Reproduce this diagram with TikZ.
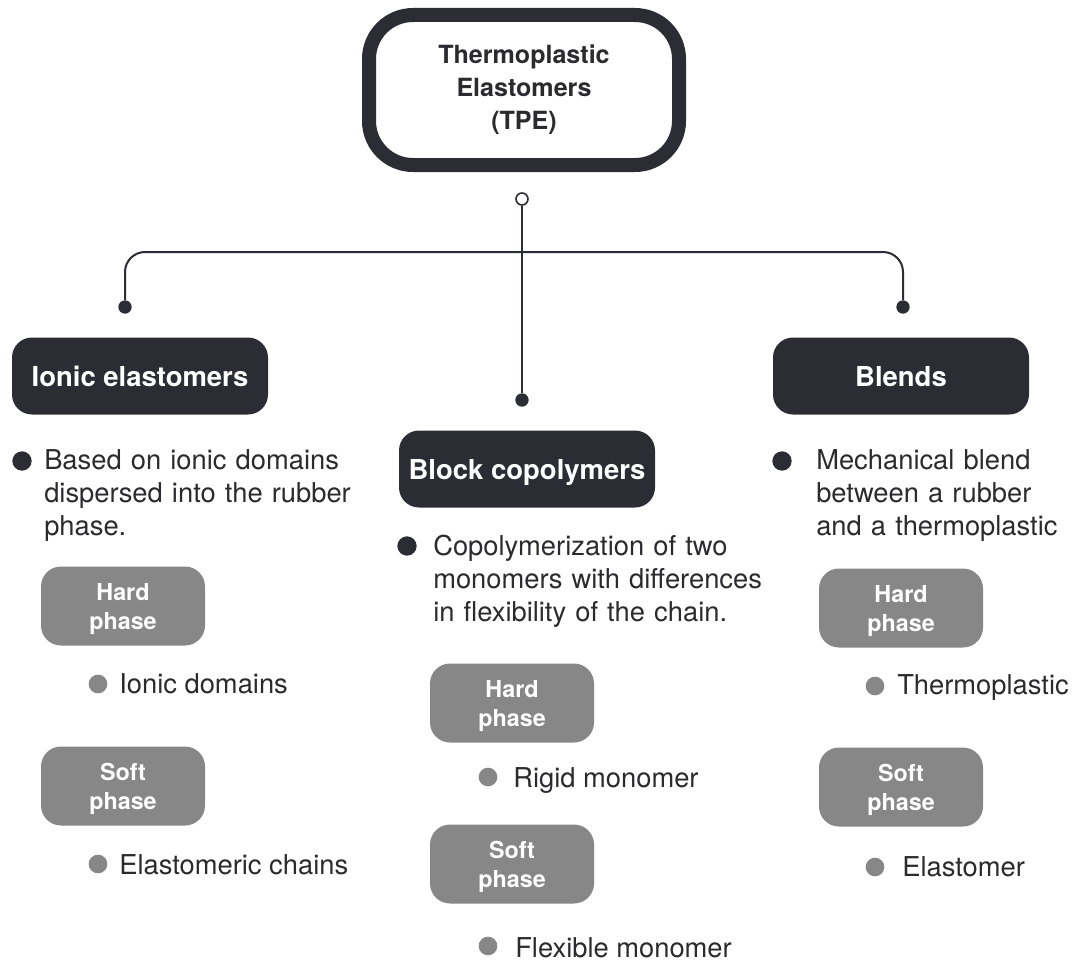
\documentclass[tikz,border=0pt]{standalone}
\usepackage{fontspec}
\setmainfont{TeX Gyre Heros}
\definecolor{dark}{HTML}{2C2D34}
\definecolor{midgrey}{HTML}{878787}
\definecolor{txt}{HTML}{2A2A2F}
\begin{document}
\begin{tikzpicture}[x=0.75pt,y=-0.75pt,
  title/.style={draw=dark, line width=10.5pt, fill=white, rounded corners=33pt, minimum width=232.5pt, minimum height=112.5pt, align=center, text=txt, font=\fontsize{18.8pt}{24.75pt}\selectfont\bfseries},
  cat/.style={fill=dark, rounded corners=15pt, minimum width=192pt, minimum height=57.75pt, text depth=0pt, text=white, font=\fontsize{20.6pt}{24pt}\selectfont\bfseries},
  phase/.style={fill=midgrey, rounded corners=15pt, minimum width=123pt, minimum height=59.25pt, text depth=0pt, text=white, align=center, font=\fontsize{17.5pt}{21.75pt}\selectfont\bfseries},
  bigdot/.style={circle, fill=dark, inner sep=0pt, minimum size=14.5pt},
  smalldot/.style={circle, fill=midgrey, inner sep=0pt, minimum size=14pt},
  desc/.style={anchor=base west, inner sep=0pt, text=txt, align=left, font=\fontsize{20.5pt}{24.75pt}\selectfont},
  item/.style={anchor=base west, inner sep=0pt, text=txt, font=\fontsize{20.5pt}{24pt}\selectfont},
  conn/.style={draw=dark, line width=1.5pt},
  jdot/.style={circle, fill=dark, inner sep=0pt, minimum size=10pt},
  odot/.style={circle, draw=dark, fill=white, line width=1.2pt, inner sep=0pt, minimum size=9pt}]
\useasboundingbox (0,0) rectangle (1073,963);

% top node
\node[title] (tpe) at (524,90) {Thermoplastic\\Elastomers\\(TPE)};

% connectors
\coordinate (hub) at (522,252);
\node[odot] (o) at (522,199) {};
\node[jdot] (d1) at (125,307) {};
\node[jdot] (d2) at (522,400) {};
\node[jdot] (d3) at (903,307) {};
\draw[conn] (o) -- (d2);
\draw[conn, rounded corners=15pt] (d1) -- (d1 |- hub) -- (d3 |- hub) -- (d3);

% category boxes
\node[cat] (ionic) at (140,376) {Ionic elastomers};
\node[cat] (block) at (527,469) {Block copolymers};
\node[cat] (blends) at (901,376) {Blends};

% descriptions
\node[bigdot] (b1) at (22,461) {};
\node[desc, text width=245pt] (t1) at (44,469) {Based on ionic domains\\dispersed into the rubber\\phase.};
\node[bigdot] (b2) at (407,546) {};
\node[desc, text width=258pt] (t2) at (433,555) {Copolymerization of two\\monomers with differences\\in flexibility of the chain.};
\node[bigdot] (b3) at (782,461) {};
\node[desc, text width=192pt] (t3) at (816,469) {Mechanical blend\\between a rubber\\and a thermoplastic};

% left column
\node[phase] (h1) at (123,606) {Hard\\phase};
\node[smalldot] (s1) at (98,684) {};
\node[item] (i1) at (119,693) {Ionic domains};
\node[phase] (f1) at (123,786) {Soft\\phase};
\node[smalldot] (s2) at (98,864) {};
\node[item] (i2) at (119,874) {Elastomeric chains};

% middle column
\node[phase] (h2) at (512,703) {Hard\\phase};
\node[smalldot] (s3) at (488,777) {};
\node[item] (i3) at (513,787) {Rigid monomer};
\node[phase] (f2) at (512,864) {Soft\\phase};
\node[smalldot] (s4) at (488,946) {};
\node[item] (i4) at (515,957) {Flexible monomer};

% right column
\node[phase] (h3) at (901,608) {Hard\\phase};
\node[smalldot] (s5) at (875,686) {};
\node[item] (i5) at (897,694) {Thermoplastic};
\node[phase] (f3) at (901,787) {Soft\\phase};
\node[smalldot] (s6) at (875,867) {};
\node[item] (i6) at (902,876) {Elastomer};
\end{tikzpicture}
\end{document}
